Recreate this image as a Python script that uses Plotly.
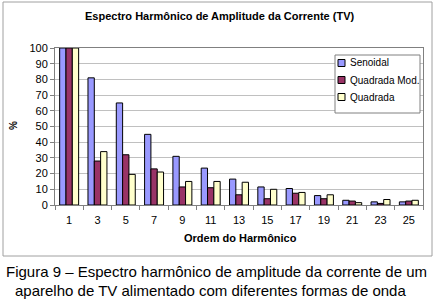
import plotly.graph_objects as go

W, H = 435, 299

harmonics = ["1", "3", "5", "7", "9", "11", "13", "15", "17", "19", "21", "23", "25"]
senoidal = [100, 81, 65, 45, 31, 23.5, 16.5, 11.5, 10.5, 6, 3, 2, 2]
quadrada_mod = [100, 28, 32, 23, 11.5, 11, 6.5, 4, 7.5, 4, 2.5, 1, 2.5]
quadrada = [100, 34, 19.5, 21, 15, 15, 14.5, 10, 8, 6.5, 1.5, 3.5, 3]

series_names = ["Senoidal", "Quadrada Mod.", "Quadrada"]
series_colors = ["#9999FF", "#993366", "#FFFFCC"]
y_ticks = list(range(0, 101, 10))

FONT = "Liberation Sans, Arial, sans-serif"


def px(x):
    return x / W


def py(y):
    return 1 - y / H


fig = go.Figure()
for name, vals, col in zip(series_names, [senoidal, quadrada_mod, quadrada], series_colors):
    fig.add_trace(go.Bar(
        x=harmonics, y=vals, name=name,
        marker=dict(color=col, line=dict(color="black", width=1)),
    ))

fig.update_layout(
    width=W, height=H,
    margin=dict(l=0, r=0, t=0, b=0, autoexpand=False),
    paper_bgcolor="white", plot_bgcolor="white",
    barmode="group", bargap=0.33, bargroupgap=0,
    font=dict(family=FONT, size=11, color="black"),
    xaxis=dict(
        domain=[px(55), px(423)], type="category",
        tickson="boundaries", ticks="outside", ticklen=4, tickcolor="#808080",
        showline=True, linecolor="#808080", linewidth=1, mirror=True,
        showgrid=False, tickfont=dict(size=11, family=FONT),
        ticklabelstandoff=5,
    ),
    yaxis=dict(
        domain=[py(205), py(48)], range=[0, 100], tickvals=y_ticks,
        ticks="outside", ticklen=4, tickcolor="#808080",
        showline=True, linecolor="#808080", linewidth=1, mirror=True,
        showgrid=True, gridcolor="#C0C0C0", gridwidth=1,
        tickfont=dict(size=11, family=FONT), zeroline=False,
    ),
    showlegend=False,
)

# chart border
fig.add_shape(type="rect", xref="paper", yref="paper",
              x0=px(3), x1=px(432), y0=py(256), y1=py(2),
              line=dict(color="#A0A0A0", width=1), layer="below")

# legend drawn manually (Excel style)
fig.add_shape(type="rect", xref="paper", yref="paper",
              x0=px(335), x1=px(420), y0=py(113), y1=py(55),
              line=dict(color="#808080", width=1), fillcolor="white", layer="above")
for i, (name, col) in enumerate(zip(series_names, series_colors)):
    yc = 63 + i * 17
    fig.add_shape(type="rect", xref="paper", yref="paper",
                  x0=px(338), x1=px(345), y0=py(yc + 3.5), y1=py(yc - 3.5),
                  line=dict(color="black", width=1), fillcolor=col, layer="above")
    fig.add_annotation(text=name, x=px(348), y=py(yc), xref="paper", yref="paper",
                       xanchor="left", yanchor="middle", showarrow=False,
                       font=dict(size=10, family=FONT))

fig.add_annotation(text="<b>Espectro Harmônico de Amplitude da Corrente (TV)</b>",
                   x=px(219), y=py(16), xref="paper", yref="paper",
                   xanchor="center", yanchor="middle",
                   showarrow=False, font=dict(size=11, family=FONT))
fig.add_annotation(text="<b>%</b>", x=px(14), y=py(126), xref="paper", yref="paper",
                   xanchor="center", yanchor="middle",
                   showarrow=False, textangle=-90, font=dict(size=10, family=FONT))
fig.add_annotation(text="<b>Ordem do Harmônico</b>", x=px(240), y=py(238),
                   xref="paper", yref="paper", xanchor="center", yanchor="middle",
                   showarrow=False, font=dict(size=11, family=FONT))
fig.add_annotation(text="Figura 9 – Espectro harmônico de amplitude da corrente de um",
                   x=px(4), y=py(271), xref="paper", yref="paper",
                   xanchor="left", yanchor="middle",
                   showarrow=False, font=dict(size=15, family=FONT))
fig.add_annotation(text="aparelho de TV alimentado com diferentes formas de onda",
                   x=px(13), y=py(290), xref="paper", yref="paper",
                   xanchor="left", yanchor="middle",
                   showarrow=False, font=dict(size=15, family=FONT))

fig.write_html("out.html", config={"displayModeBar": False},
               post_script="document.body.style.margin='0';")
